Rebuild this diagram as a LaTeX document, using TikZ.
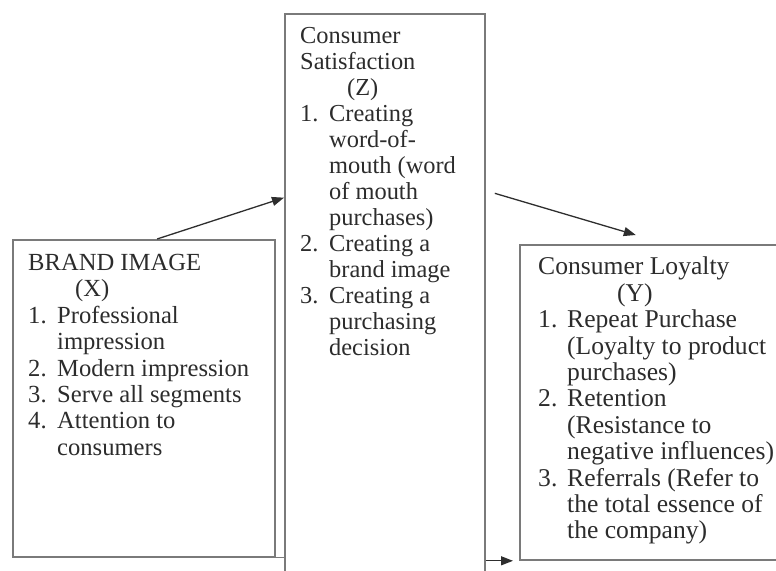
\documentclass[tikz,border=0pt]{standalone}
\usepackage{fontspec}
\setmainfont{Liberation Serif}
\usetikzlibrary{arrows.meta, calc}
\definecolor{cframe}{HTML}{7A7A7A}
\definecolor{cline}{HTML}{2E2E2E}
\definecolor{ctext}{HTML}{2C2C2C}
\newcommand{\itemno}[1]{\makebox[29pt][l]{#1.}}
\newcommand{\hangin}{\hspace*{29pt}}
\tikzset{
  panel/.style={draw=cframe, line width=1.8pt, inner sep=0pt, anchor=north west},
  panetext/.style={anchor=north west, inner sep=0pt, align=left, text=ctext, font=\fontsize{24.6}{26.4}\selectfont},
  arrow/.style={-{Triangle[length=12pt, width=9pt]}, draw=cline, line width=1.3pt},
  link/.style={draw=cframe, line width=1.3pt},
}
\begin{document}
\begin{tikzpicture}[x=1pt, y=-1pt]
  \useasboundingbox (0,0) rectangle (776,570);
  \clip (0,0) rectangle (776,570);
  % the three boxes
  \node[panel, minimum width=262pt, minimum height=317pt] (brand) at (12,239) {};
  \node[panel, minimum width=200pt, minimum height=620pt] (sat) at (284,13) {};
  \node[panel, minimum width=300pt, minimum height=315pt] (loyal) at (519,244) {};
  % texts
  \node[panetext] (brandtxt) at (28,254) {BRAND IMAGE\\\hspace*{47pt}(X)\\
    \itemno{1}Professional\\\hangin impression\\
    \itemno{2}Modern impression\\
    \itemno{3}Serve all segments\\
    \itemno{4}Attention to\\\hangin consumers};
  \node[panetext, font=\fontsize{24.4}{26}\selectfont] (sattxt) at (300,27) {Consumer\\Satisfaction\\\hspace*{47pt}(Z)\\
    \itemno{1}Creating\\\hangin word-of-\\\hangin mouth (word\\\hangin of mouth\\\hangin purchases)\\
    \itemno{2}Creating a\\\hangin brand image\\
    \itemno{3}Creating a\\\hangin purchasing\\\hangin decision};
  \node[panetext, font=\fontsize{25.6}{26.4}\selectfont] (loyaltxt) at (538,257) {Consumer Loyalty\\\hspace*{79pt}(Y)\\
    \itemno{1}Repeat Purchase\\\hangin (Loyalty to product\\\hangin purchases)\\
    \itemno{2}Retention\\\hangin (Resistance to\\\hangin negative influences)\\
    \itemno{3}Referrals (Refer to\\\hangin the total essence of\\\hangin the company)};
  % connectors
  \draw[arrow] ($(brand.north west)!0.55!(brand.north east)$) -- ($(sat.north west)!0.297!(sat.south west)$);
  \draw[arrow] ($(sat.north east)!0.29!(sat.south east) + (9,0)$) -- ($(loyal.north west)!0.387!(loyal.north east) + (0,-9)$);
  \draw[link] (brand.south east) -- (brand.south east -| sat.west);
  \draw[arrow, shorten >=6pt] (loyal.south west -| sat.east) -- (loyal.south west);
\end{tikzpicture}
\end{document}
